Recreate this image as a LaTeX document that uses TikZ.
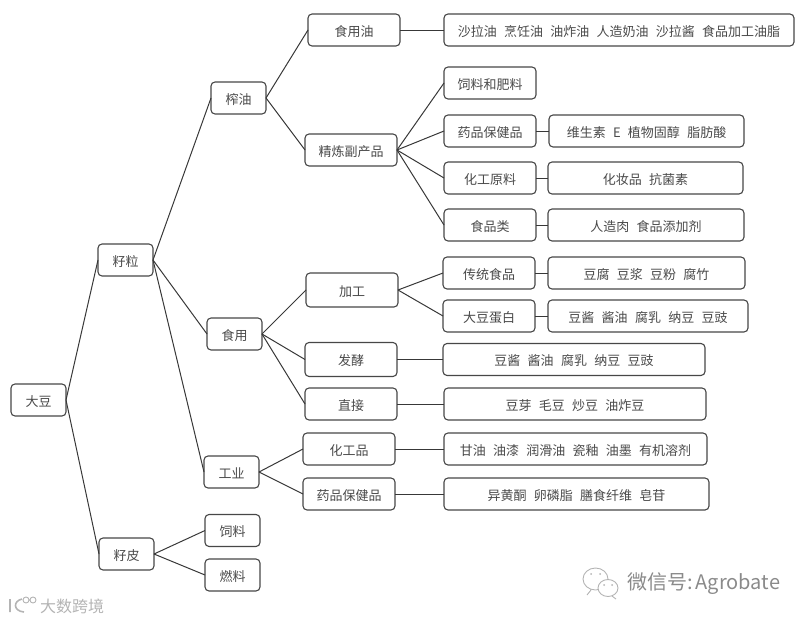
\documentclass[tikz,border=0pt]{standalone}
\usepackage{fontspec}
\usepackage{xcolor}
\setmainfont[WordSpace=2.5]{Noto Sans CJK SC}
\usetikzlibrary{positioning}
\definecolor{inkgray}{HTML}{4A4A4A}
\definecolor{markgray}{HTML}{8A8A8A}
\definecolor{logogray}{HTML}{B4B4B4}

\begin{document}
\begin{tikzpicture}[
      x=1pt,y=1pt,
      box/.style={rectangle,rounded corners=4pt,draw=black!72,line width=1.1pt,fill=white,align=center,outer sep=0pt,inner sep=0pt,minimum height=32pt,minimum width=55pt,text height=15pt,text depth=2.6pt,text=inkgray,font=\fontsize{13pt}{15pt}\selectfont},
      mid/.style={box,minimum width=92pt},
      link/.style={draw=black!78,line width=1pt},
      logo/.style={draw=logogray,line width=0.9pt}
    ]
    \useasboundingbox (0,0) rectangle (806,-621);
    \node[box] (root) at (38.5,-400) {大豆};
    \node[box,above right=108pt and 32pt of root] (grain) {籽粒};
    \node[box,below right=122pt and 33pt of root] (hull) {籽皮};
    \node[box,right=51pt of hull,yshift=23.5pt] (feed) {饲料};
    \node[box,right=51pt of hull,yshift=-21pt] (fuel) {燃料};
    \node[box,above right=130pt and 58pt of grain] (press) {榨油};
    \node[box,below right=42pt and 54pt of grain] (edible) {食用};
    \node[box,below right=180pt and 51pt of grain] (indust) {工业};
    % second level
    \node[mid,above right=36pt and 42pt of press] (oil) {食用油};
    \node[mid,below right=20pt and 39pt of press] (refine) {精炼副产品};
    \node[mid,above right=11pt and 44pt of edible,minimum height=34pt] (proc) {加工};
    \node[mid,right=43pt of edible,yshift=-25.5pt,minimum height=34pt] (ferm) {发酵};
    \node[mid,below right=38pt and 43pt of edible] (direct) {直接};
    \node[mid,right=44pt of indust,yshift=23pt] (chem) {化工品};
    \node[mid,right=44pt of indust,yshift=-22pt] (pharm) {药品保健品};
    % third level
    \node[mid,above right=35pt and 47pt of refine] (fert) {饲料和肥料};
    \node[mid,below=16pt of fert] (health) {药品保健品};
    \node[mid,below=15pt of health] (raw) {化工原料};
    \node[mid,below=15pt of raw] (foods) {食品类};
    \node[mid,right=45pt of proc,yshift=17pt] (trad) {传统食品};
    \node[mid,below=11pt of trad] (soyp) {大豆蛋白};
    % product lists
    \node[box,right=44pt of oil,minimum width=350pt] (oilx) {沙拉油 烹饪油 油炸油 人造奶油 沙拉酱 食品加工油脂};
    \node[box,right=13pt of health,minimum width=195pt] (healthx) {维生素 E 植物固醇 脂肪酸};
    \node[box,right=12pt of raw,minimum width=195pt] (rawx) {化妆品 抗菌素};
    \node[box,right=12pt of foods,minimum width=196pt] (foodsx) {人造肉 食品添加剂};
    \node[box,right=13pt of trad,minimum width=197pt] (tradx) {豆腐 豆浆 豆粉 腐竹};
    \node[box,right=13pt of soyp,minimum width=200pt] (soypx) {豆酱 酱油 腐乳 纳豆 豆豉};
    \node[box,right=46pt of ferm,minimum width=262pt] (fermx) {豆酱 酱油 腐乳 纳豆 豆豉};
    \node[box,right=47pt of direct,minimum width=262pt] (directx) {豆芽 毛豆 炒豆 油炸豆};
    \node[box,right=49pt of chem,minimum width=263pt] (chemx) {甘油 油漆 润滑油 瓷釉 油墨 有机溶剂};
    \node[box,right=49pt of pharm,minimum width=265pt] (pharmx) {异黄酮 卵磷脂 膳食纤维 皂苷};
    % connectors
    \draw[link] (root.east) -- (grain.west);
    \draw[link] (root.east) -- (hull.west);
    \draw[link] (grain.east) -- (press.west);
    \draw[link] (grain.east) -- (edible.west);
    \draw[link] (grain.east) -- (indust.west);
    \draw[link] (hull.east) -- (feed.west);
    \draw[link] (hull.east) -- (fuel.west);
    \draw[link] (press.east) -- (oil.west);
    \draw[link] (press.east) -- (refine.west);
    \draw[link] (edible.east) -- (proc.west);
    \draw[link] (edible.east) -- (ferm.west);
    \draw[link] (edible.east) -- (direct.west);
    \draw[link] (indust.east) -- (chem.west);
    \draw[link] (indust.east) -- (pharm.west);
    \draw[link] (refine.east) -- (fert.west);
    \draw[link] (refine.east) -- (health.west);
    \draw[link] (refine.east) -- (raw.west);
    \draw[link] (refine.east) -- (foods.west);
    \draw[link] (proc.east) -- (trad.west);
    \draw[link] (proc.east) -- (soyp.west);
    \draw[link] (oil.east) -- (oilx.west);
    \draw[link] (health.east) -- (healthx.west);
    \draw[link] (raw.east) -- (rawx.west);
    \draw[link] (foods.east) -- (foodsx.west);
    \draw[link] (trad.east) -- (tradx.west);
    \draw[link] (soyp.east) -- (soypx.west);
    \draw[link] (ferm.east) -- (fermx.west);
    \draw[link] (direct.east) -- (directx.west);
    \draw[link] (chem.east) -- (chemx.west);
    \draw[link] (pharm.east) -- (pharmx.west);
    % watermarks
    \node[text=markgray,font=\fontsize{20pt}{22pt}\selectfont,anchor=west,inner sep=0pt] (wechat) at (627,-584) {微信号:\hspace{3pt}Agrobate};
    \node[text=logogray,font=\fontsize{16pt}{18pt}\selectfont,anchor=west,inner sep=0pt] (brand) at (40,-606) {大数跨境};
    \draw[logo] (591,-590) -- (587,-595) (595.5,-579) ellipse [x radius=12.5,y radius=11];
    \draw[logo,fill=white] (608,-588) ellipse [x radius=10,y radius=8.5] (612,-596) -- (616,-599);
    \fill[logogray] (591,-574) circle (1) (600,-574) circle (1) (604,-585) circle (1) (612,-585) circle (1);
    \draw[logo,line width=1.6pt] (10,-599) -- (10,-612) (22,-599) .. controls (13,-601) and (13,-611) .. (24,-612);
    \draw[logo] (26,-600) circle (3) (33,-600) circle (3);
  \end{tikzpicture}
\end{document}
